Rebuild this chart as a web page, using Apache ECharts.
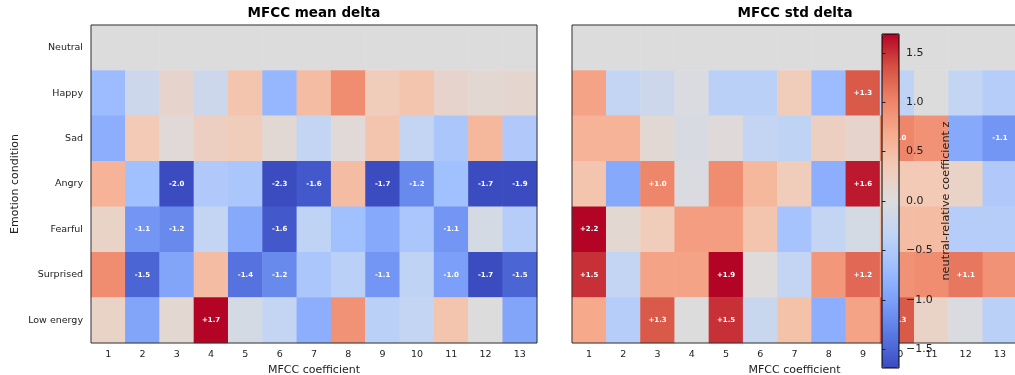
<!DOCTYPE html>
<html>
<head>
<meta charset="utf-8">
<script src="https://cdn.jsdelivr.net/npm/echarts@6/dist/echarts.min.js"></script>
<style>html,body{margin:0;padding:0;background:#fff;}#chart{width:1015px;height:375px;}</style>
</head>
<body>
<div id="chart"></div>
<script>
const coefficients = ['1','2','3','4','5','6','7','8','9','10','11','12','13'];
const emotions = ['Neutral','Happy','Sad','Angry','Fearful','Surprised','Low energy'];

// MFCC mean delta (rows = emotions, columns = coefficients 1..13)
const meanNeutral   = [0,0,0,0,0,0,0,0,0,0,0,0,0];
const meanHappy     = [-0.70,-0.20,0.15,-0.20,0.40,-0.75,0.50,0.95,0.30,0.40,0.15,0.10,0.12];
const meanSad       = [-0.85,0.35,0.05,0.25,0.30,0.07,-0.30,0.05,0.40,-0.30,-0.55,0.55,-0.50];
const meanAngry     = [0.60,-0.65,-2.0,-0.50,-0.55,-2.3,-1.6,0.50,-1.7,-1.2,-0.65,-1.7,-1.9];
const meanFearful   = [0.20,-1.1,-1.2,-0.30,-0.90,-1.6,-0.35,-0.65,-0.90,-0.55,-1.1,-0.10,-0.45];
const meanSurprised = [0.95,-1.5,-0.95,0.50,-1.4,-1.2,-0.55,-0.40,-1.1,-0.35,-1.0,-1.7,-1.5];
const meanLowEnergy = [0.20,-0.95,0.10,1.7,-0.10,-0.30,-0.85,0.90,-0.40,-0.30,0.40,0.00,-0.95];

// MFCC std delta
const stdNeutral   = [0,0,0,0,0,0,0,0,0,0,0,0,0];
const stdHappy     = [0.75,-0.30,-0.20,-0.05,-0.40,-0.40,0.30,-0.70,1.3,-0.35,0.00,-0.30,-0.45];
const stdSad       = [0.60,0.60,0.08,-0.07,0.03,-0.30,-0.35,0.25,0.15,1.0,0.90,-0.90,-1.1];
const stdAngry     = [0.40,-0.90,1.0,-0.05,0.95,0.55,0.30,-0.85,1.6,0.35,0.35,0.20,-0.50];
const stdFearful   = [2.2,0.10,0.30,0.80,0.80,0.40,-0.60,-0.30,-0.10,0.50,0.50,-0.45,-0.45];
const stdSurprised = [1.5,-0.30,0.75,0.75,1.9,0.02,-0.30,0.85,1.2,0.90,0.95,1.1,0.90];
const stdLowEnergy = [0.70,-0.45,1.3,0.00,1.5,-0.25,0.45,-0.85,0.75,1.3,0.20,-0.05,-0.40];

const colorbarTicks = [-1.5,-1.0,-0.5,0.0,0.5,1.0,1.5];
const colorLimit = 1.69;
const coolwarm = ['#3b4cc0','#5a78e4','#7b9ff9','#9ebeff','#c0d4f5','#dddcdc','#f2cbb7','#f7ac8e','#ee8468','#d65244','#b40426'];

const meanRows = [meanNeutral, meanHappy, meanSad, meanAngry, meanFearful, meanSurprised, meanLowEnergy];
const stdRows = [stdNeutral, stdHappy, stdSad, stdAngry, stdFearful, stdSurprised, stdLowEnergy];

function toCells(rows) {
  const out = [];
  rows.forEach((row, r) => row.forEach((v, c) => {
    const cl = Math.max(-colorLimit, Math.min(colorLimit, v));
    out.push([c, r, cl, v]);
  }));
  return out;
}

const FONT = 'DejaVu Sans';
const txt = '#222';

const cellLabel = {
  show: true,
  color: '#fff',
  fontFamily: FONT,
  fontWeight: 'bold',
  fontSize: 7,
  formatter: p => {
    const v = p.data[3];
    if (Math.abs(v) < 1.0) return '';
    return (v > 0 ? '+' : '-') + Math.abs(v).toFixed(1);
  }
};

function xAx(gi) {
  return {
    type: 'category', gridIndex: gi, data: coefficients,
    name: 'MFCC coefficient', nameLocation: 'middle', nameGap: 21,
    nameTextStyle: {fontFamily: FONT, fontSize: 11, color: txt},
    axisLine: {show: false},
    axisTick: {alignWithLabel: true, length: 3.5, lineStyle: {color: txt}},
    axisLabel: {fontFamily: FONT, fontSize: 9.5, color: txt, margin: 7},
    splitLine: {show: false}
  };
}
function yAx(gi, withLabels) {
  return {
    type: 'category', gridIndex: gi, data: emotions, inverse: true,
    name: withLabels ? 'Emotion condition' : '', nameLocation: 'middle', nameGap: 70,
    nameTextStyle: {fontFamily: FONT, fontSize: 11, color: txt},
    axisLine: {show: false},
    axisTick: {alignWithLabel: true, length: 3.5, lineStyle: {color: txt}},
    axisLabel: {show: withLabels, fontFamily: FONT, fontSize: 9.5, color: txt, margin: 8},
    splitLine: {show: false}
  };
}

const gridBase = {show: true, backgroundColor: 'transparent', containLabel: false, outerBoundsMode: 'none'};

const option = {
  backgroundColor: '#fff',
  animation: false,
  grid: [
    Object.assign({left: 91, top: 25, width: 446, height: 318, borderColor: '#333', borderWidth: 1, z: 5}, gridBase),
    Object.assign({left: 572, top: 25, width: 445, height: 318, borderColor: '#333', borderWidth: 1, z: 5}, gridBase),
    Object.assign({left: 882, top: 34, width: 17, height: 334, borderColor: '#000', borderWidth: 1, z: 10}, gridBase)
  ],
  xAxis: [xAx(0), xAx(1), {type: 'value', gridIndex: 2, show: false, min: 0, max: 1}],
  yAxis: [yAx(0, true), yAx(1, false), {
    type: 'value', gridIndex: 2, position: 'right', min: -colorLimit, max: colorLimit, z: 10,
    name: 'neutral-relative coefficient z', nameLocation: 'middle', nameGap: 42, nameRotate: 90,
    nameTextStyle: {fontFamily: FONT, fontSize: 11.3, color: txt},
    axisLine: {show: false},
    splitLine: {show: false},
    axisTick: {show: true, length: 3.5, customValues: colorbarTicks, lineStyle: {color: txt}},
    axisLabel: {fontFamily: FONT, fontSize: 11, color: txt, margin: 7, customValues: colorbarTicks,
      formatter: v => (v < 0 ? '\u2212' : '') + Math.abs(v).toFixed(1)}
  }],
  visualMap: {
    type: 'continuous', seriesIndex: [0, 1], dimension: 2,
    min: -colorLimit, max: colorLimit, calculable: false, realtime: false,
    orient: 'vertical', left: 882, top: 34, padding: 0,
    itemWidth: 17, itemHeight: 334, text: null, showLabel: false,
    inRange: {color: coolwarm}, z: 8
  },
  graphic: [
    {type: 'text', x: 314, y: 13, style: {text: 'MFCC mean delta', textAlign: 'center', textVerticalAlign: 'middle', font: 'bold 13.5px "DejaVu Sans"', fill: '#000'}},
    {type: 'text', x: 795, y: 13, style: {text: 'MFCC std delta', textAlign: 'center', textVerticalAlign: 'middle', font: 'bold 13.5px "DejaVu Sans"', fill: '#000'}}
  ],
  series: [
    {type: 'heatmap', xAxisIndex: 0, yAxisIndex: 0, data: toCells(meanRows), label: cellLabel, itemStyle: {borderWidth: 0}, emphasis: {disabled: true}},
    {type: 'heatmap', xAxisIndex: 1, yAxisIndex: 1, data: toCells(stdRows), label: cellLabel, itemStyle: {borderWidth: 0}, emphasis: {disabled: true}}
  ]
};

echarts.init(document.getElementById('chart')).setOption(option);
</script>
</body>
</html>
